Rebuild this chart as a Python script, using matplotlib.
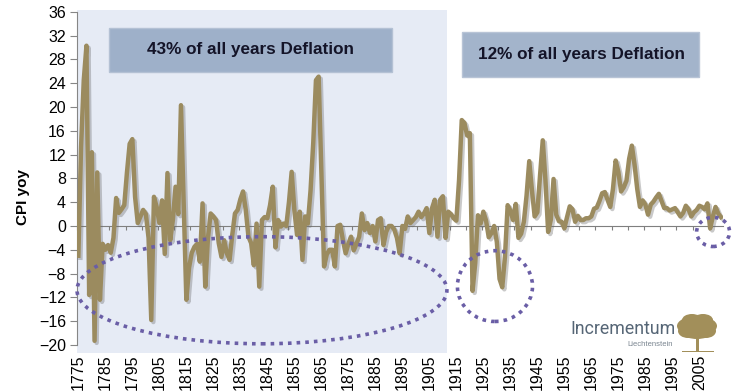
import numpy as np
import matplotlib
matplotlib.use("Agg")
import matplotlib.pyplot as plt
import matplotlib.patheffects as pe
from matplotlib.patches import Ellipse, Rectangle

plt.rcParams['font.family'] = ['Liberation Sans', 'DejaVu Sans']

# US CPI, year over year change in %, 1775-2013
years = list(range(1775, 2014))
cpi_yoy = [
    # 1775-1784
    -5.0, 13.3, 24.5, 30.3, -11.6, 12.4, -19.3, 9.0, -12.4, -3.0,
    # 1785-1794
    -4.0, -3.2, -4.5, -2.0, 4.7, 2.2, 2.8, 3.5, 9.0, 13.8,
    # 1795-1804
    14.6, 4.9, 0.5, 1.6, 2.7, 2.0, -2.0, -15.8, 4.9, 3.2,
    # 1805-1814
    0.5, 4.3, -4.7, 8.9, -2.4, 1.0, 6.6, 2.0, 20.3, 4.0,
    # 1815-1824
    -12.4, -7.0, -4.5, -3.5, -3.0, -6.0, 3.8, -10.2, -2.0, 2.1,
    # 1825-1834
    1.6, 1.0, -2.9, -5.2, -2.4, -4.6, -5.7, -1.5, 2.1, 2.7,
    # 1835-1844
    4.5, 5.8, 2.7, -1.8, -2.9, -6.6, 0.4, -10.2, 1.0, 1.5,
    # 1845-1854
    1.3, 3.5, 6.6, -3.6, 1.0, -0.1, 0.4, 0.0, 4.0, 9.1,
    # 1855-1864
    2.7, -1.5, 2.4, -5.7, 1.6, 0.4, 6.0, 14.0, 24.5, 25.1,
    # 1865-1874
    9.0, -6.8, -4.8, -4.0, -4.0, -6.8, 0.0, 0.2, -2.4, -4.6,
    # 1875-1884
    -3.0, -1.8, -4.1, -3.0, -1.8, 2.1, -0.7, 0.5, -1.2, 0.0,
    # 1885-1894
    -2.6, 1.0, 1.3, -3.2, -1.0, 0.0, 0.0, -0.6, -2.0, -4.6,
    # 1895-1904
    0.0, -0.5, 1.6, 0.5, 1.0, 1.5, 2.4, 1.5, 2.1, 3.0,
    # 1905-1914
    -1.2, 3.0, 4.4, -1.8, 4.4, 5.0, -2.0, 2.4, 2.0, 1.3,
    # 1915-1924
    0.9, 7.7, 17.8, 17.3, 15.2, 15.6, -10.9, -6.2, 1.8, 0.4,
    # 1925-1934
    2.4, 0.9, -1.9, -1.2, 0.0, -2.7, -8.9, -10.3, -5.2, 3.5,
    # 1935-1944
    2.6, 1.0, 3.7, -2.0, -1.3, 0.7, 5.1, 10.9, 6.0, 1.6,
    # 1945-1954
    2.3, 8.5, 14.4, 7.7, -1.0, 1.1, 7.9, 1.9, 0.8, 0.7,
    # 1955-1964
    -0.4, 1.5, 3.3, 2.8, 0.7, 1.7, 1.0, 1.0, 1.3, 1.3,
    # 1965-1974
    1.6, 2.9, 3.1, 4.2, 5.5, 5.7, 4.4, 3.2, 6.2, 11.0,
    # 1975-1984
    9.1, 5.8, 6.5, 7.6, 11.3, 13.5, 10.3, 6.2, 3.2, 4.3,
    # 1985-1994
    3.6, 1.9, 3.6, 4.1, 4.8, 5.4, 4.2, 3.0, 3.0, 2.6,
    # 1995-2004
    2.8, 3.0, 2.3, 1.6, 2.2, 3.4, 2.8, 1.6, 2.3, 2.7,
    # 2005-2013
    3.4, 3.2, 2.8, 3.8, -0.4, 1.6, 3.2, 2.1, 1.5,
]
label_years = list(range(1775, 2006, 10))
y_ticks = list(range(-20, 37, 4))
pre_fed_end = 1911.6
box_texts = ['43% of all years Deflation', '12% of all years Deflation']

line_col = '#9b8b5f'
dot_col = '#6a5ea6'
grey = '#868686'

fig = plt.figure(figsize=(7.32, 3.92), dpi=100)
ax = fig.add_axes([0.1052, 0.0987, 0.8825, 0.8758])
ax.set_xlim(1774.5, 2013.76)
ax.set_ylim(-21.4, 36.3)

# shaded period before the Fed
ax.axvspan(1774.5, pre_fed_end, color='#e6ebf5', zorder=0, lw=0)

ax.plot(years, cpi_yoy, color=line_col, lw=3.2, solid_joinstyle='round', zorder=5,
        path_effects=[pe.SimpleLineShadow(offset=(1.5, -1.5), shadow_color='#666666', alpha=0.35),
                      pe.Normal()])

# axes styling
for s in ['top', 'right']:
    ax.spines[s].set_visible(False)
ax.spines['left'].set_bounds(-20, 36)
ax.spines['left'].set_color(grey)
ax.spines['bottom'].set_position(('data', 0))
ax.spines['bottom'].set_color('#7f7f7f')
ax.set_yticks(y_ticks)
ax.tick_params(axis='y', direction='out', length=5, color=grey, labelsize=11.5, pad=3)
ax.set_xticks(np.arange(1774.5, 2014, 6))
ax.tick_params(axis='x', direction='out', length=3, color='#7f7f7f', labelbottom=False)

sec = ax.secondary_xaxis('bottom')
sec.set_xticks(label_years)
sec.tick_params(length=0, labelrotation=90, labelsize=11.5, pad=1)
sec.spines['bottom'].set_visible(False)

ax.set_ylabel('CPI yoy', fontsize=11, fontweight='bold')
ax.yaxis.set_label_coords(-0.073, 0.455)

# info boxes
ax.add_patch(Rectangle((1786.4, 25.9), 104.8, 7.4, fc='#9eb0c9', ec='#b4c1d4', lw=1, zorder=3))
ax.text(1838.6, 29.6, box_texts[0], ha='center', va='center', fontsize=12.3,
        fontweight='bold', color='#141428', zorder=4)
ax.add_patch(Rectangle((1917.1, 25.0), 87.8, 7.6, fc='#a3b4cb', ec='#b8c4d6', lw=1, zorder=3))
ax.text(1961.2, 28.8, box_texts[1], ha='center', va='center', fontsize=12.3,
        fontweight='bold', color='#141428', zorder=4)

# dotted ellipses around deflation periods
for (cx, cy, w, h) in [(1843.0, -10.8, 137.0, 18.0), (1929.3, -10.1, 27.8, 11.9),
                       (2010.1, -1.0, 12.2, 4.9)]:
    ax.add_patch(Ellipse((cx, cy), w, h, fill=False, ec=dot_col, lw=2.6,
                         ls=(0, (1, 1.4)), zorder=6, clip_on=False))

# logo
fig.text(570 / 732, 1 - 334 / 392, 'Incrementum', fontsize=12.8, color='#566676',
         family=['Roboto', 'DejaVu Sans'], va='baseline')
fig.text(673 / 732, 1 - 346 / 392, 'Liechtenstein', fontsize=5.5, color='#7a8590',
         ha='right', va='baseline')
tree = '#a28f5a'
canopy = [(697, 326, 40, 20), (688, 331, 20, 14), (706, 331, 20, 14),
          (692, 320, 20, 12), (703, 320, 20, 12), (697, 334, 26, 10)]
for (px, py, pw, ph) in canopy:
    fig.add_artist(Ellipse((px / 732, 1 - py / 392), pw / 732, ph / 392, fc=tree, ec='none'))
fig.add_artist(Rectangle((695.5 / 732, 1 - 351 / 392), 3 / 732, 14 / 392, fc=tree, ec='none'))
fig.add_artist(Rectangle((682 / 732, 1 - 352 / 392), 32 / 732, 1.5 / 392, fc=tree, ec='none'))

fig.savefig('out.png', dpi=100, facecolor='white')
